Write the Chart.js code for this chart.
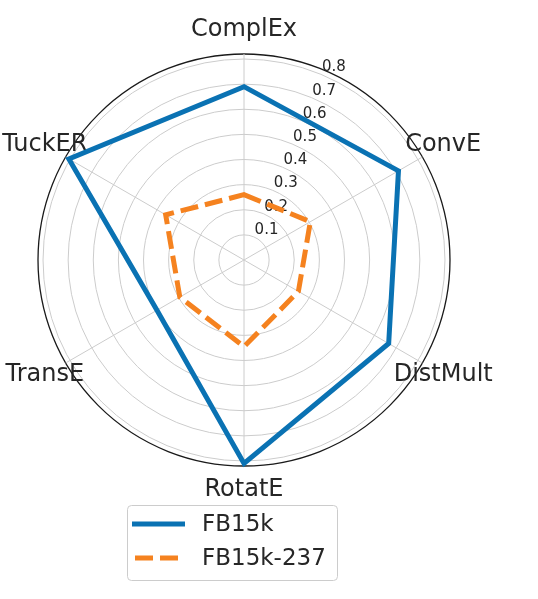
<!DOCTYPE html>
<html>
<head>
<meta charset="utf-8">
<script src="https://cdn.jsdelivr.net/npm/chart.js@4.4.1/dist/chart.umd.min.js"></script>
<style>
  html, body { margin: 0; padding: 0; background: #fff; }
  canvas { display: block; }
</style>
</head>
<body>
<canvas id="radarChart" width="538" height="599"></canvas>
<script>
const models = ["ComplEx", "ConvE", "DistMult", "RotatE", "TransE", "TuckER"];
const fb15k = [0.69, 0.71, 0.665, 0.81, 0.40, 0.805];
const fb15k237 = [0.26, 0.305, 0.25, 0.345, 0.295, 0.36];
const tickValues = [0.1, 0.2, 0.3, 0.4, 0.5, 0.6, 0.7, 0.8];
const radialMax = 0.82;

const textColor = "#262626";
const font = "DejaVu Sans";

// labels, tick text and legend drawn like matplotlib does
const polarText = {
  id: "polarText",
  beforeDatasetsDraw(chart) {
    const scale = chart.scales.r;
    const ctx = chart.ctx;
    ctx.save();
    ctx.fillStyle = textColor;

    // tick labels at 22.5 deg
    ctx.font = "15px '" + font + "'";
    ctx.textAlign = "left";
    ctx.textBaseline = "alphabetic";
    const a = (22.5 - 90) * Math.PI / 180;
    tickValues.forEach((v) => {
      const d = scale.getDistanceFromCenterForValue(v);
      ctx.fillText(String(v), scale.xCenter + Math.cos(a) * d + 1, scale.yCenter + Math.sin(a) * d - 3);
    });

    // category labels
    ctx.font = "24px '" + font + "'";
    ctx.textAlign = "center";
    ctx.textBaseline = "middle";
    models.forEach((m, i) => {
      const p = scale.getPointPosition(i, scale.drawingArea + 24);
      ctx.fillText(m, p.x, p.y);
    });
    ctx.restore();
  },
  afterDraw(chart) {
    const ctx = chart.ctx;
    ctx.save();
    // legend box
    ctx.fillStyle = "rgba(255,255,255,0.8)";
    ctx.strokeStyle = "#cccccc";
    ctx.lineWidth = 1;
    ctx.beginPath();
    ctx.roundRect(127.5, 505.5, 210, 75, 4);
    ctx.fill();
    ctx.stroke();

    const sets = chart.data.datasets;
    const rows = [524, 558];
    sets.forEach((ds, i) => {
      ctx.strokeStyle = ds.borderColor;
      ctx.lineWidth = ds.borderWidth;
      ctx.setLineDash(ds.borderDash || []);
      ctx.lineCap = "butt";
      ctx.beginPath();
      if (i === 0) {
        ctx.moveTo(132, rows[i]);
        ctx.lineTo(185, rows[i]);
      } else {
        ctx.moveTo(135, rows[i]);
        ctx.lineTo(180, rows[i]);
      }
      ctx.stroke();
      ctx.setLineDash([]);
      ctx.fillStyle = textColor;
      ctx.font = "23px '" + font + "'";
      ctx.textAlign = "left";
      ctx.textBaseline = "middle";
      ctx.fillText(ds.label, 202, rows[i] + 1);
    });
    ctx.restore();
  }
};

new Chart(document.getElementById("radarChart"), {
  type: "radar",
  data: {
    labels: models,
    datasets: [
      {
        label: "FB15k",
        data: fb15k,
        borderColor: "#0a72b3",
        borderWidth: 5,
        borderJoinStyle: "miter",
        fill: false,
        pointRadius: 0,
      },
      {
        label: "FB15k-237",
        data: fb15k237,
        borderColor: "#f5821f",
        borderWidth: 5,
        borderDash: [18, 7],
        borderJoinStyle: "miter",
        fill: false,
        pointRadius: 0,
      },
    ],
  },
  options: {
    responsive: false,
    animation: false,
    layout: {
      padding: { left: 38, top: 54, right: 88, bottom: 133 },
    },
    plugins: {
      legend: { display: false },
      tooltip: { enabled: false },
    },
    scales: {
      r: {
        min: 0,
        max: radialMax,
        afterBuildTicks: (scale) => {
          scale.ticks = [0, ...tickValues, radialMax].map((v) => ({ value: v }));
        },
        ticks: { display: false },
        pointLabels: { display: false },
        angleLines: { color: "#cccccc", lineWidth: 1 },
        grid: {
          circular: true,
          color: (c) => (c.tick && c.tick.value >= radialMax ? "#1a1a1a" : "#cccccc"),
          lineWidth: (c) => (c.tick && c.tick.value >= radialMax ? 1.3 : 1),
        },
      },
    },
  },
  plugins: [polarText],
});
</script>
</body>
</html>
